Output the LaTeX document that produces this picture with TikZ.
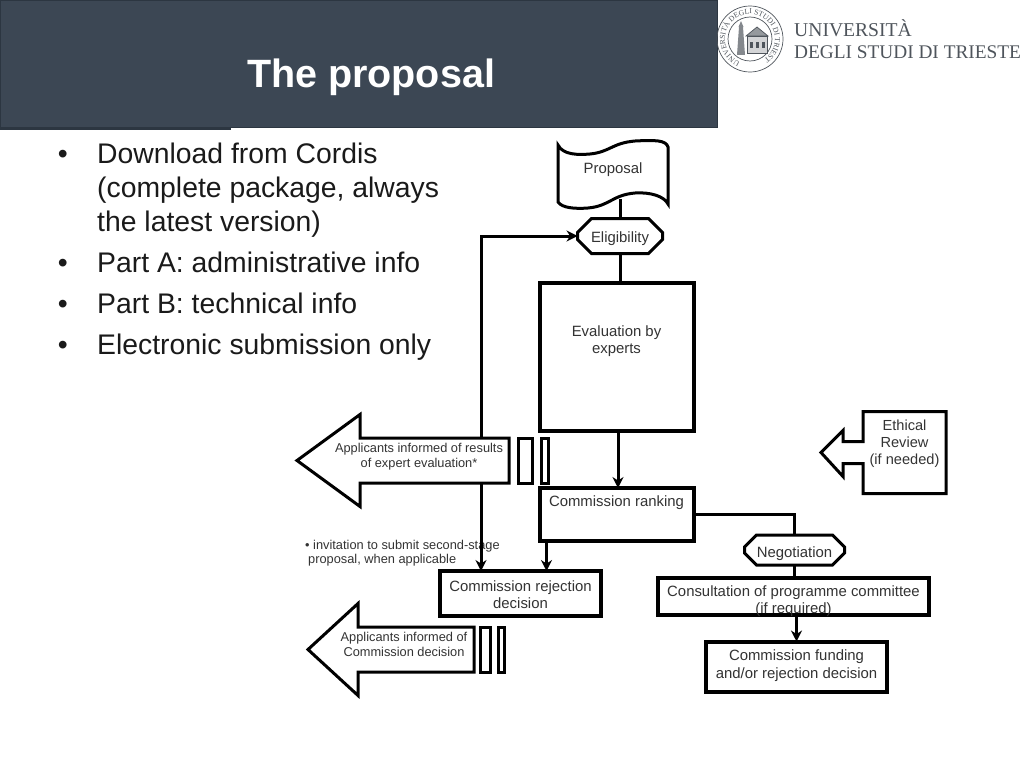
\documentclass[tikz,border=0pt]{standalone}
\usepackage{fontspec}
\setmainfont{Liberation Sans}
\newfontfamily\logofont{Liberation Serif}
\usetikzlibrary{arrows.meta, positioning, shapes.misc, decorations.text}
\definecolor{headerfill}{HTML}{3C4754}
\definecolor{headeredge}{HTML}{2C3641}
\definecolor{bodyink}{HTML}{1A1A1A}
\definecolor{flowink}{HTML}{333333}
\definecolor{logoink}{HTML}{4F555C}
\tikzset{
  flowbox/.style={draw=black, line width=#1, fill=white, inner sep=0pt, outer sep=0pt},
  flowbox/.default=4pt,
  boxtext/.style={font=\fontsize{14.9}{17.5}\selectfont, text=flowink, align=center, inner sep=0pt},
  arrowtext/.style={font=\fontsize{12.8}{14.5}\selectfont, text=flowink, align=center, inner sep=0pt},
  octbox/.style={chamfered rectangle, chamfered rectangle xsep=7pt, chamfered rectangle ysep=7pt,
    draw=black, line width=3pt, fill=white, inner sep=0pt, outer sep=0pt, boxtext},
  shaftbox/.style={minimum height=45pt, inner sep=0pt, outer sep=0pt},
  barbox/.style={flowbox=3pt, minimum height=45pt},
  conn/.style={line width=3pt, -{Stealth[length=11pt, width=11pt]}},
  plainconn/.style={line width=3pt},
  bulletitem/.style={font=\fontsize{28.35}{34}\selectfont, text=bodyink, align=left, inner sep=0pt, anchor=north west,
    label={[font=\fontsize{28.35}{34}\selectfont, text=bodyink, inner sep=0pt, anchor=north east, xshift=-29pt, yshift=-7pt]north west:\textbullet}},
}
\newcommand{\bigarrow}[4]{% node, tip, head back, right end
  \draw[line width=3pt, line join=miter, fill=white] ([xshift=#2pt]#1.center) -- ([xshift=#3pt, yshift=46pt]#1.center)
    -- ([xshift=#3pt, yshift=22.5pt]#1.center) -- ([xshift=#4pt, yshift=22.5pt]#1.center)
    -- ([xshift=#4pt, yshift=-22.5pt]#1.center) -- ([xshift=#3pt, yshift=-22.5pt]#1.center)
    -- ([xshift=#3pt, yshift=-46pt]#1.center) -- cycle;
}
\begin{document}
\begin{tikzpicture}[x=1pt, y=-1pt, >=Stealth]
  \useasboundingbox (0,0) rectangle (1024,768);
  % header
  \fill[headeredge] (0,126) rectangle (231,129.5);
  \draw[fill=headerfill, draw=headeredge, line width=1pt] (0.5,0.5) rectangle (717,127.5);
  \node (title) at (371,77) [font=\bfseries\fontsize{39.5}{44}\selectfont, text=white, inner sep=0pt] {The proposal};
  % logo
  \begin{scope}[shift={(750,39)}, x=1pt, y=1pt, draw=logoink, line width=0.7pt]
    \draw (0,0) circle (33pt);
    \draw (0,0) circle (22pt);
    \path[decorate, decoration={text along path, text align=center,
      text={|\logofont\fontsize{7.6}{8}\selectfont\color{logoink}|UNIVERSITÀ DEGLI STUDI DI TRIESTE}}]
      (235:25pt) arc[start angle=235, end angle=-55, radius=25pt];
    \fill[logoink!70] (-13,-16) -- (-11,12) -- (-7,12) -- (-5,-16) -- cycle;
    \fill[logoink!70] (-11.5,12) -- (-9,18) -- (-6.5,12) -- cycle;
    \draw[fill=logoink!25] (-3,-14) rectangle (17,3);
    \draw[fill=logoink!60] (-4,3) -- (7,12) -- (18,3) -- cycle;
    \foreach \winx in {0,6,12} \fill[logoink] (\winx,-9) rectangle +(3,6);
  \end{scope}
  \node (logoa) at (794,28) [anchor=west, font=\logofont\fontsize{19.6}{22}\selectfont, text=logoink, inner sep=0pt] {UNIVERSITÀ};
  \node (logob) at (794,52) [anchor=west, font=\logofont\fontsize{19.3}{22}\selectfont, text=logoink, inner sep=0pt] {DEGLI STUDI DI TRIESTE};
  % bullets
  \node (item1) at (97,143) [bulletitem] {Download from Cordis\\(complete package, always\\the latest version)};
  \node (item2) [bulletitem, below=14pt of item1.south west, anchor=north west] {Part A: administrative info};
  \node (item3) [bulletitem, below=20pt of item2.south west, anchor=north west] {Part B: technical info};
  \node (item4) [bulletitem, below=20pt of item3.south west, anchor=north west] {Electronic submission only};
  % flow chart
  \node (proposal) at (613,170) [boxtext, minimum width=110pt, minimum height=58pt] {Proposal};
  \draw[line width=3pt] (558,145) .. controls (563,155) and (578,155) .. (590,154)
    .. controls (610,152) and (612,143) .. (635,141) .. controls (655,140) and (666,140) .. (668,147)
    -- (668,204) .. controls (664,196) and (650,192) .. (635,193)
    .. controls (612,195) and (610,206) .. (588,208) .. controls (575,209) and (562,208) .. (558,202) -- cycle;
  \node (eligibility) at (620,236) [octbox, minimum width=85pt, minimum height=35pt, text height=16pt, text depth=3pt] {Eligibility};
  \node (evaluation) [flowbox, below=29.5pt of eligibility, xshift=-3.5pt, minimum width=154pt, minimum height=148pt,
    label={[boxtext, yshift=16pt]center:{Evaluation by\\experts}}] {};
  \node (ranking) [flowbox, below=57pt of evaluation, minimum width=154pt, minimum height=53pt,
    label={[boxtext, yshift=11.5pt]center:{Commission ranking}}] {};
  \node (rejection) at (520.5,593.5) [flowbox, minimum width=161pt, minimum height=45pt,
    label={[boxtext, yshift=-1pt]center:{Commission rejection\\decision}}] {};
  \node (negotiation) at (794.5,550) [octbox, chamfered rectangle xsep=6pt, chamfered rectangle ysep=6pt, minimum width=100pt, minimum height=30pt, text height=15pt, text depth=0pt] {Negotiation};
  \node (consultation) [flowbox, below=12.5pt of negotiation, xshift=-1pt, minimum width=271pt, minimum height=37pt,
    label={[boxtext, yshift=-5pt]center:{Consultation of programme committee\\(if required)}}] {};
  \node (funding) [flowbox, below=27pt of consultation, xshift=3pt, minimum width=181pt, minimum height=50pt,
    label={[boxtext, yshift=1pt]center:{Commission funding\\and/or rejection decision}}] {};
  % applicants arrows
  \node (informedresults) at (419,460.5) [shaftbox, minimum width=180pt] {};
  \bigarrow{informedresults}{-122}{-59}{90}
  \node (resultstext) [arrowtext, yshift=4pt] at (informedresults) {Applicants informed of results\\of expert evaluation*};
  \node (bara) [barbox, right=9pt of informedresults, minimum width=14pt] {};
  \node (barb) [barbox, right=9pt of bara, minimum width=7pt] {};
  \node (informeddecision) at (404,649.5) [shaftbox, minimum width=140pt] {};
  \bigarrow{informeddecision}{-96}{-46}{70}
  \node (decisiontext) [arrowtext, yshift=5pt] at (informeddecision) {Applicants informed of\\Commission decision};
  \node (barc) [barbox, right=6.5pt of informeddecision, minimum width=10pt] {};
  \node (bard) [barbox, right=7.5pt of barc, minimum width=6pt] {};
  % ethical review
  \node (ethical) at (904.5,452.5) [minimum width=83pt, minimum height=82pt, inner sep=0pt, outer sep=0pt,
    label={[arrowtext, font=\fontsize{14.6}{17}\selectfont, yshift=9pt]center:{Ethical\\Review\\(if needed)}}] {};
  \draw[line width=3pt] (ethical.south west) -- (ethical.south east) -- (ethical.north east) -- (ethical.north west)
    -- ([yshift=-30pt]ethical.north west) -- ++(-20,0) -- ++(0,-11) -- ++(-22,22) -- ++(22,24) -- ++(0,-13) -- ++(20,0) -- cycle;
  % footnote
  \node (note) at (305,553) [arrowtext, anchor=west, align=left] {\textbullet\ invitation to submit second-stage\\\hspace*{3pt}proposal, when applicable};
  % connectors
  \draw[plainconn] (eligibility.north) -- (eligibility.north |- proposal.south);
  \draw[plainconn] (eligibility.south) -- (eligibility.south |- evaluation.north);
  \draw[conn] ([xshift=1.5pt]evaluation.south) -- ([xshift=1.5pt]ranking.north);
  \draw[conn] ([xshift=62pt]informedresults.north) |- (eligibility.west);
  \draw[conn] ([xshift=62pt]informedresults.south) -- ([xshift=62pt]informedresults.south |- rejection.north);
  \draw[conn] ([xshift=-70pt]ranking.south) -- ([xshift=-70pt]ranking.south |- rejection.north);
  \draw[plainconn] (ranking.east) -| (negotiation.north);
  \draw[plainconn] (negotiation.south) -- (negotiation.south |- consultation.north);
  \draw[conn] (funding.north |- consultation.south) -- (funding.north);
\end{tikzpicture}
\end{document}
